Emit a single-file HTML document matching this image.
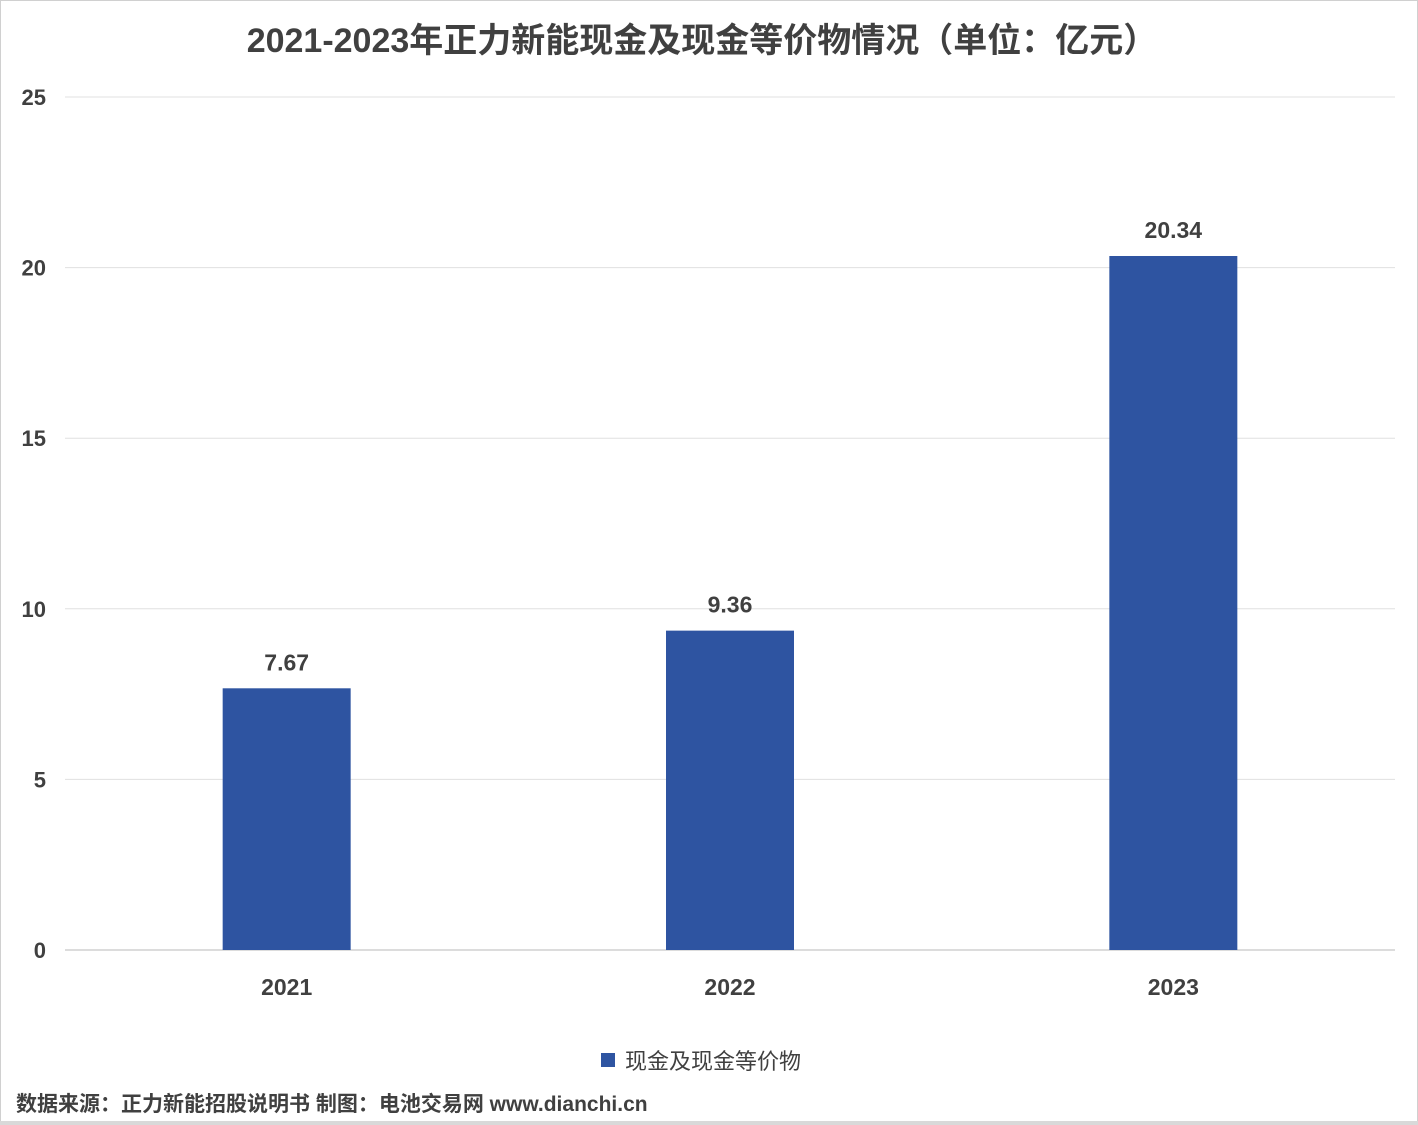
<!DOCTYPE html>
<html><head><meta charset="utf-8"><style>
html,body{margin:0;padding:0;background:#fff;}
body{width:1418px;height:1125px;overflow:hidden;position:relative;font-family:"Liberation Sans","Noto Sans CJK SC",sans-serif;}
#frame{position:absolute;left:0;top:0;width:1416px;height:1123px;border:1px solid #d0d0d0;}
#bottom{position:absolute;left:0;top:1121px;width:1418px;height:4px;background:#d9d9d9;}
</style></head><body>
<div id="frame"></div>
<div id="bottom"></div>
<svg id="chart" width="1418" height="1125" style="position:absolute;left:0;top:0">
<text x="702" y="52" text-anchor="middle" font-size="34" font-weight="bold" fill="#404040" font-family="Liberation Sans, Noto Sans CJK SC, sans-serif">2021-2023年正力新能现金及现金等价物情况（单位：亿元）</text>
<g id="grid"></g><g id="bars"></g><g id="labels"></g>
<rect x="601" y="1053" width="14" height="14" fill="#2e54a1"/>
<text x="625" y="1069" font-size="22" fill="#404040" font-family="Liberation Sans, Noto Sans CJK SC, sans-serif">现金及现金等价物</text>
<text x="16" y="1111" font-size="21" font-weight="bold" fill="#404040" font-family="Liberation Sans, Noto Sans CJK SC, sans-serif">数据来源：正力新能招股说明书 制图：电池交易网 www.dianchi.cn</text>
</svg>
<script>
const categories=["2021","2022","2023"];
const values=[7.67,9.36,20.34];
const valueLabels=["7.67","9.36","20.34"];
const ticks=[0,5,10,15,20,25];
const ns="http://www.w3.org/2000/svg";
const x0=65,x1=1395,y0=950,yTop=97,vmax=25;
const ys=v=>y0-(v/vmax)*(y0-yTop);
const band=(x1-x0)/categories.length;
const xc=i=>x0+band*(i+0.5);
const bw=128;
function mk(t,a,p){const e=document.createElementNS(ns,t);for(const k in a)e.setAttribute(k,a[k]);p.appendChild(e);return e;}
const g=document.getElementById('grid'),b=document.getElementById('bars'),l=document.getElementById('labels');
ticks.forEach(t=>{
 const ln=mk('line',{x1:x0,x2:x1,y1:ys(t),y2:ys(t),stroke:t===0?'#d0d0d0':'#e0e0e0','stroke-width':t===0?1.5:1},g);
 
 
 const tx=mk('text',{x:46,y:ys(t)+8,'text-anchor':'end','font-size':22,'font-weight':'bold',fill:'#404040'},g);
 tx.textContent=t;
 
 
});
categories.forEach((c,i)=>{
 const r=mk('rect',{x:xc(i)-bw/2,y:ys(values[i]),width:bw,height:y0-ys(values[i]),fill:'#2e54a1'},b);
 
 
 const v=mk('text',{x:xc(i),y:ys(values[i])-18,'text-anchor':'middle','font-size':23,'font-weight':'bold',fill:'#404040'},l);
 v.textContent=valueLabels[i];
 
 
 const xl=mk('text',{x:xc(i),y:995,'text-anchor':'middle','font-size':23,'font-weight':'bold',fill:'#404040'},l);
 xl.textContent=c;
 
 
});
</script>
</body></html>
